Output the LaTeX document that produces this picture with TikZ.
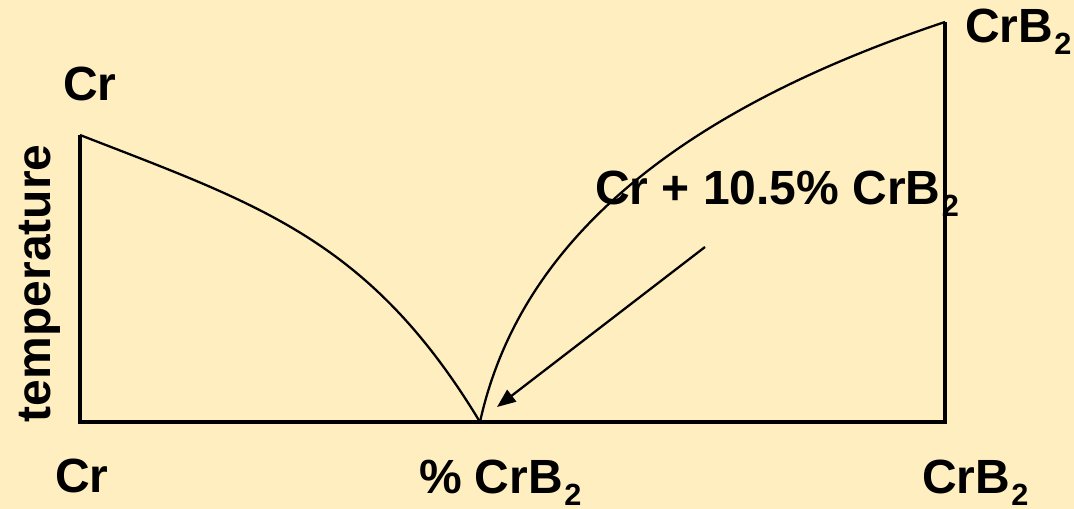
\documentclass[tikz,border=0pt]{standalone}
\usepackage{fontspec}
\setmainfont{Liberation Sans}
\usetikzlibrary{arrows.meta}
\definecolor{bg}{RGB}{255,238,192}
\newcommand{\subtwo}[1]{\kern1pt\raisebox{-9pt}{\fontsize{23}{23}\selectfont #1}}
\tikzset{
  lbl/.style={font=\fontsize{36}{40}\selectfont\bfseries, inner sep=0pt, outer sep=0pt, anchor=base west},
  axis/.style={line width=2.5pt},
  curve/.style={line width=1.7pt},
  pointer/.style={line width=1.7pt, -{Triangle[length=14pt,width=11pt]}}
}
\begin{document}
\begin{tikzpicture}[x=0.75pt,y=-0.75pt]
\fill[bg] (0,0) rectangle (1074,509);
\useasboundingbox (0,0) rectangle (1074,509);
% frame corners
\coordinate (ltop) at (80,135);
\coordinate (lbot) at (80,422);
\coordinate (eut) at (480,422);
\coordinate (rbot) at (945,422);
\coordinate (rtop) at (945,22);
\coordinate (astart) at (705,247);
\coordinate (aend) at (497,407);
% axes
\draw[axis] (ltop) -- (lbot) -- (rbot) -- (rtop);
% liquidus curves
\draw[curve] (ltop) .. controls (260,205) and (370,240) .. (eut);
\draw[curve] (eut) .. controls (520,240) and (680,110) .. (rtop);
% arrow
\draw[pointer] (astart) -- (aend);
% labels
\node[lbl] (crtop) at (63,101) {Cr};
\node[lbl] (crb2top) at (965,43) {CrB\subtwo{2}};
\node[lbl] (eutlbl) at (595,205) {Cr + 10.5\% CrB\subtwo{2}};
\node[lbl, rotate=90] (temp) at (50,422) {temperature};
\node[lbl] (crbot) at (55,492) {Cr};
\node[lbl] (pct) at (419,493) {\% CrB\subtwo{2}};
\node[lbl] (crb2bot) at (922,493) {CrB\subtwo{2}};
\end{tikzpicture}
\end{document}
